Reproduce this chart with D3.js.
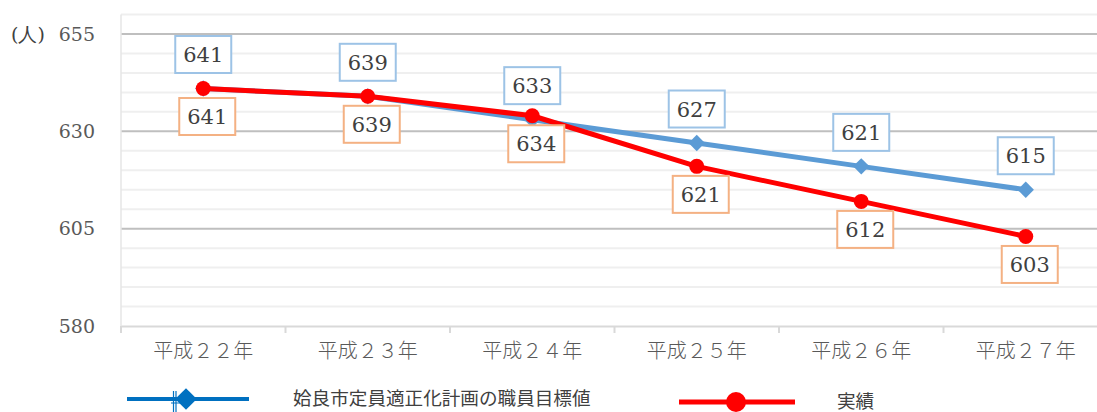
<!DOCTYPE html>
<html>
<head>
<meta charset="utf-8">
<script src="https://cdn.jsdelivr.net/npm/d3@7"></script>
<style>
  body { margin: 0; background: #fff; }
  svg { display: block; }
  .num { font-family: "DejaVu Serif", serif; }
  .jp { font-family: "Noto Sans CJK JP", sans-serif; }
</style>
</head>
<body>
<div id="chart"></div>
<script>
// data
var years = ["平成２２年", "平成２３年", "平成２４年", "平成２５年", "平成２６年", "平成２７年"];
var targetValues = [641, 639, 633, 627, 621, 615];
var actualValues = [641, 639, 634, 621, 612, 603];
var yTicks = [580, 605, 630, 655];
var seriesNames = ["姶良市定員適正化計画の職員目標値", "実績"];

// set the dimensions and margins of the graph
var W = 1097, H = 412;
var left = 121, bottom = 326, bandW = 164.5;

var svg = d3.select("#chart").append("svg")
    .attr("width", W)
    .attr("height", H);

// scales
var x = d3.scaleBand()
    .domain(years)
    .range([left, left + bandW * years.length]);
var y = d3.scaleLinear()
    .domain([580, 660])
    .range([bottom, bottom - 80 * (292 / 75)]);

function cx(i) { return x(years[i]) + x.bandwidth() / 2; }

// minor gridlines (every 5)
var minor = d3.range(585, 661, 5).filter(function(v) { return yTicks.indexOf(v) < 0; });
svg.append("g").selectAll("line")
    .data(minor)
  .enter().append("line")
    .attr("x1", left).attr("x2", W)
    .attr("y1", function(d) { return y(d); })
    .attr("y2", function(d) { return y(d); })
    .attr("stroke", "#efefef")
    .attr("stroke-width", 2);

// major gridlines
svg.append("g").selectAll("line")
    .data(yTicks.slice(1))
  .enter().append("line")
    .attr("x1", left).attr("x2", W)
    .attr("y1", function(d) { return y(d); })
    .attr("y2", function(d) { return y(d); })
    .attr("stroke", "#bfbfbf")
    .attr("stroke-width", 2);

// vertical axis line
svg.append("line")
    .attr("x1", left).attr("x2", left)
    .attr("y1", y(660)).attr("y2", bottom)
    .attr("stroke", "#e6e6e6")
    .attr("stroke-width", 1.5);

// x axis
var xAxis = svg.append("g")
    .attr("transform", "translate(0," + bottom + ")")
    .call(d3.axisBottom(x).tickSize(0).tickPadding(18));
xAxis.attr("font-family", null);
xAxis.select(".domain").attr("stroke", "#d9d9d9").attr("stroke-width", 2);
xAxis.selectAll("text")
    .attr("class", "jp")
    .attr("font-size", "20px")
    .attr("fill", "#595959")
    .attr("font-weight", 300);
// tick marks at category boundaries
svg.append("g").selectAll("line")
    .data(d3.range(years.length + 1))
  .enter().append("line")
    .attr("x1", function(i) { return left + i * bandW; })
    .attr("x2", function(i) { return left + i * bandW; })
    .attr("y1", bottom).attr("y2", bottom + 7)
    .attr("stroke", "#d9d9d9")
    .attr("stroke-width", 2);

// y axis labels
var yAxis = svg.append("g")
    .attr("transform", "translate(" + (left - 26) + ",0)")
    .call(d3.axisLeft(y).tickValues(yTicks).tickSize(0).tickPadding(0));
yAxis.attr("font-family", null);
yAxis.select(".domain").remove();
yAxis.selectAll("text")
    .attr("class", "num")
    .attr("font-size", "19px")
    .attr("fill", "#595959");

svg.append("text")
    .attr("class", "num")
    .attr("x", 11).attr("y", y(655) + 7)
    .attr("font-size", "19px")
    .attr("fill", "#404040")
    .text("(人)");

// lines
var line = function(vals) {
  return d3.line()
    .x(function(d, i) { return cx(i); })
    .y(function(d) { return y(d); })(vals);
};

svg.append("path")
    .attr("d", line(targetValues))
    .attr("fill", "none")
    .attr("stroke", "#5b9bd5")
    .attr("stroke-width", 5)
    .attr("stroke-linejoin", "round");
svg.append("g").selectAll("path")
    .data(targetValues)
  .enter().append("path")
    .attr("d", d3.symbol().type(d3.symbolDiamond2).size(170))
    .attr("transform", function(d, i) { return "translate(" + cx(i) + "," + y(d) + ")"; })
    .attr("fill", "#5b9bd5");

svg.append("path")
    .attr("d", line(actualValues))
    .attr("fill", "none")
    .attr("stroke", "#ff0000")
    .attr("stroke-width", 5)
    .attr("stroke-linejoin", "round");
svg.append("g").selectAll("circle")
    .data(actualValues)
  .enter().append("circle")
    .attr("cx", function(d, i) { return cx(i); })
    .attr("cy", function(d) { return y(d); })
    .attr("r", 7.5)
    .attr("fill", "#ff0000");

// data labels
function labels(vals, dx, dy, stroke) {
  var g = svg.append("g").selectAll("g")
      .data(vals)
    .enter().append("g")
      .attr("transform", function(d, i) {
        return "translate(" + (cx(i) + dx) + "," + (y(d) + dy) + ")";
      });
  g.append("rect")
      .attr("x", -28).attr("y", -18.5)
      .attr("width", 56).attr("height", 37)
      .attr("fill", "#fff")
      .attr("stroke", stroke)
      .attr("stroke-width", 2);
  g.append("text")
      .attr("class", "num")
      .attr("text-anchor", "middle")
      .attr("dy", "0.36em")
      .attr("font-size", "21px")
      .attr("fill", "#404040")
      .text(function(d) { return d; });
}
labels(targetValues, 0, -34, "#9dc3e6");
labels(actualValues, 4, 28, "#f4b183");

// legend
var lg = svg.append("g");
lg.append("line")
    .attr("x1", 127).attr("x2", 249).attr("y1", 399).attr("y2", 399)
    .attr("stroke", "#0070c0").attr("stroke-width", 4);
// small rendering remnant beside the legend marker
lg.append("path")
    .attr("d", "M173.5,391V412M176,391V412M171,403H181")
    .attr("stroke", "#0070c0").attr("stroke-width", 1.2).attr("fill", "none");
lg.append("path")
    .attr("d", d3.symbol().type(d3.symbolDiamond2).size(300))
    .attr("transform", "translate(186,399)")
    .attr("fill", "#0070c0");
lg.append("text")
    .attr("class", "jp")
    .attr("x", 293).attr("y", 405)
    .attr("font-size", "18.6px")
    .attr("fill", "#404040")
    .text(seriesNames[0]);

lg.append("line")
    .attr("x1", 679).attr("x2", 795).attr("y1", 402).attr("y2", 402)
    .attr("stroke", "#ff0000").attr("stroke-width", 5);
lg.append("circle")
    .attr("cx", 736).attr("cy", 402).attr("r", 10)
    .attr("fill", "#ff0000");
lg.append("text")
    .attr("class", "jp")
    .attr("x", 837).attr("y", 408)
    .attr("font-size", "18.6px")
    .attr("fill", "#404040")
    .text(seriesNames[1]);
</script>
</body>
</html>
